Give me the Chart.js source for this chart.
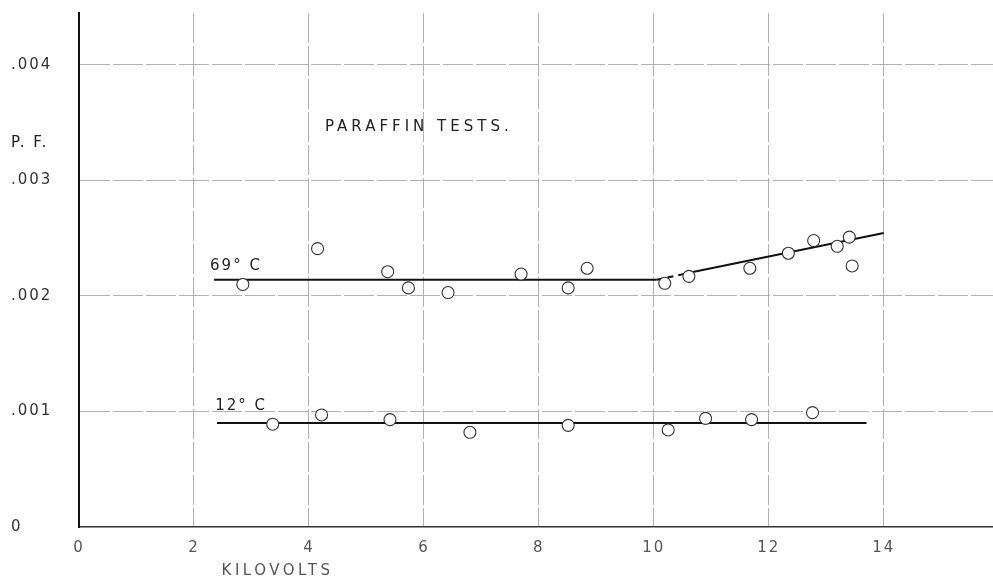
<!DOCTYPE html>
<html>
<head>
<meta charset="utf-8">
<script src="https://cdn.jsdelivr.net/npm/chart.js@4"></script>
<style>
  html, body { margin: 0; padding: 0; background: #fff; }
  #wrap { width: 993px; height: 581px; }
</style>
</head>
<body>
<div id="wrap"><canvas id="chart" width="993" height="581"></canvas></div>
<script>
const xTicks = [0, 2, 4, 6, 8, 10, 12, 14];
const yTicks = [0, 0.001, 0.002, 0.003, 0.004];
const yTickLabels = ['0', '.001', '.002', '.003', '.004'];

// 69 °C readings
const kv69 = [2.85, 4.15, 5.37, 5.73, 6.42, 7.69, 8.51, 8.84, 10.19, 10.61, 11.67, 12.34, 12.78, 13.19, 13.40, 13.45];
const pf69 = [0.00210, 0.00241, 0.00221, 0.00207, 0.00203, 0.00219, 0.00207, 0.00224, 0.00211, 0.00217, 0.00224, 0.00237, 0.00248, 0.00243, 0.00251, 0.00226];

// 12 °C readings
const kv12 = [3.37, 4.22, 5.41, 6.80, 8.51, 10.25, 10.90, 11.70, 12.76];
const pf12 = [0.00089, 0.00097, 0.00093, 0.00082, 0.00088, 0.00084, 0.00094, 0.00093, 0.00099];

// hand drawn curves through the readings
const fit69Kv = [2.35, 10.05, 10.7, 14.0];
const fit69Pf = [0.00214, 0.00214, 0.00221, 0.002545];
const fit12Kv = [2.4, 13.7];
const fit12Pf = [0.00090, 0.00090];

const pts = (xs, ys) => xs.map((v, i) => ({ x: v, y: ys[i] }));

const font = '"DejaVu Sans", sans-serif';

// wide lettering for the tick labels too
const spacing = {
  id: 'spacing',
  beforeDraw(chart) { chart.ctx.letterSpacing = '2px'; }
};

// lettering inside the plot
const notes = {
  id: 'notes',
  afterDatasetsDraw(chart) {
    const { ctx, scales: { x, y } } = chart;
    ctx.save();
    ctx.fillStyle = '#222';
    ctx.textBaseline = 'middle';
    ctx.textAlign = 'left';
    ctx.font = '15px ' + font;
    ctx.letterSpacing = '4px';
    ctx.fillText('PARAFFIN TESTS.', 325, 127);
    ctx.letterSpacing = '2px';
    ctx.fillText('P. F.', 11, 143);
    ctx.fillText('69° C', x.getPixelForValue(2.28), y.getPixelForValue(0.00226));
    ctx.fillText('12° C', x.getPixelForValue(2.37), y.getPixelForValue(0.001048));
    ctx.fillStyle = '#555';
    ctx.letterSpacing = '3.5px';
    ctx.fillText('KILOVOLTS', x.getPixelForValue(2.48), 571);
    ctx.restore();
  }
};

const gridColor = c => (c.tick && c.tick.value === 0) ? 'rgba(0,0,0,0)' : '#a8a8a8';

new Chart(document.getElementById('chart'), {
  type: 'scatter',
  data: {
    datasets: [
      {
        label: '69°C',
        data: pts(kv69, pf69),
        pointRadius: 6,
        pointBorderWidth: 1.1,
        pointBorderColor: '#333',
        pointBackgroundColor: '#fff',
        order: 1
      },
      {
        label: '12°C',
        data: pts(kv12, pf12),
        pointRadius: 6,
        pointBorderWidth: 1.1,
        pointBorderColor: '#333',
        pointBackgroundColor: '#fff',
        order: 1
      },
      {
        label: '69°C curve',
        data: pts(fit69Kv, fit69Pf),
        showLine: true,
        pointRadius: 0,
        borderColor: '#111',
        borderWidth: 2,
        segment: {
          borderDash: s => s.p0DataIndex === 1 ? [6, 5] : undefined
        },
        order: 2
      },
      {
        label: '12°C curve',
        data: pts(fit12Kv, fit12Pf),
        showLine: true,
        pointRadius: 0,
        borderColor: '#111',
        borderWidth: 2,
        order: 2
      }
    ]
  },
  options: {
    responsive: false,
    animation: false,
    layout: { autoPadding: false, padding: { left: 11, top: 13, right: 0, bottom: 0 } },
    plugins: {
      legend: { display: false },
      tooltip: { enabled: false }
    },
    scales: {
      x: {
        type: 'linear',
        min: 0,
        max: 15.9,
        afterBuildTicks: s => { s.ticks = xTicks.map(v => ({ value: v })); },
        afterFit: s => { s.height = 54; s.paddingLeft = 0; s.paddingRight = 0; },
        grid: { color: gridColor, lineWidth: 0.9, drawTicks: false, tickLength: 0 },
        border: { display: true, color: '#333', width: 1.5, dash: [30, 3] },
        ticks: {
          padding: 12,
          color: '#555',
          font: { family: font, size: 15 },
          callback: v => String(v)
        }
      },
      y: {
        type: 'linear',
        min: 0,
        max: 0.00445,
        afterBuildTicks: s => { s.ticks = yTicks.map(v => ({ value: v })); },
        afterFit: s => { s.width = 68; s.paddingTop = 0; s.paddingBottom = 0; },
        grid: { color: gridColor, lineWidth: 0.9, drawTicks: false, tickLength: 0 },
        border: { display: true, color: '#111', width: 2, dash: [30, 3] },
        ticks: {
          crossAlign: 'far',
          color: '#333',
          font: { family: font, size: 15 },
          callback: v => yTickLabels[yTicks.indexOf(v)]
        }
      }
    }
  },
  plugins: [spacing, notes]
});
</script>
</body>
</html>
